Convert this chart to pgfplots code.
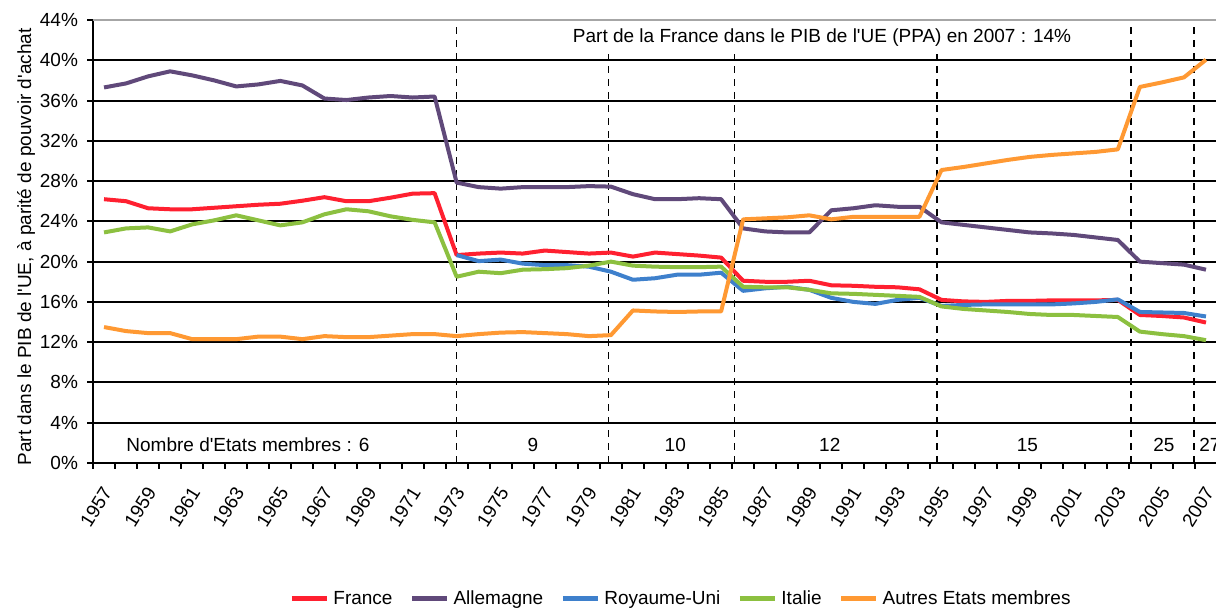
\documentclass[border=0pt]{standalone}
\usepackage{fontspec}
\setmainfont{Liberation Sans}[Ligatures=TeXOff]
\usepackage{pgfplots}
\pgfplotsset{compat=1.18}
\definecolor{cFR}{RGB}{255,32,48}
\definecolor{cDE}{RGB}{96,73,122}
\definecolor{cUK}{RGB}{62,128,204}
\definecolor{cIT}{RGB}{140,192,64}
\definecolor{cOT}{RGB}{255,153,51}
\newcommand{\fs}{\fontsize{9.5}{11}\selectfont}
\begin{document}
\begin{tikzpicture}[x=1pt,y=1pt]
\useasboundingbox (0,0) rectangle (608,304);
\node[rotate=90, font=\fs] at (13,180.5) {Part dans le PIB de l'UE, à parité de pouvoir d'achat};
\begin{axis}[
  at={(46.5pt,72.5pt)}, anchor=south west, scale only axis,
  width=562pt, height=221.5pt,
  xmin=1956.5, xmax=2007.5, ymin=0, ymax=44,
  clip=false,
  axis lines*=left,
  axis line style={black, line width=1.25pt},
  ytick={0,4,...,40},
  yticklabels={0\%,4\%,8\%,12\%,16\%,20\%,24\%,28\%,32\%,36\%,40\%},
  extra y ticks={44}, extra y tick labels={44\%},
  extra y tick style={grid=none},
  ymajorgrids, major grid style={black, line width=1pt},
  xtick={1957,1959,...,2007},
  xticklabels={1957,1959,1961,1963,1965,1967,1969,1971,1973,1975,1977,1979,1981,1983,1985,1987,1989,1991,1993,1995,1997,1999,2001,2003,2005,2007},
  minor xtick={1956.5,1957.5,...,2007.5},
  major x tick style={draw=none},
  minor x tick style={black, line width=1pt},
  major y tick style={black, line width=1pt},
  tick align=outside,
  major tick length=3pt, minor tick length=3pt,
  tick label style={font=\fs},
  yticklabel style={anchor=east, xshift=-1pt},
  xticklabel style={xshift=3.5pt, yshift=-7pt, rotate=58, anchor=east},
  legend style={at={(0.524,-0.307)}, anchor=center, draw=none, fill=none,
    legend columns=-1, font=\fs,
    /tikz/every even column/.append style={column sep=6.5pt}},
  legend image code/.code={\draw[#1, line width=2.5pt] (0pt,0pt) -- (17.5pt,0pt);},
  every axis plot/.append style={line width=2pt, no markers, line join=round},
]
% top border
\draw[gray!70, line width=1pt] (axis cs:1956.5,44) -- (axis cs:2007.5,44);
% dashed separators
\foreach \xx in {1973,1979.9,1985.6,1994.8,2003.6,2006.45}{
  \edef\tmp{\noexpand\draw[black, line width=0.75pt, dash pattern=on 3.5pt off 3pt] (axis cs:\xx,0) -- (axis cs:\xx,43.7);}\tmp
}
% white box for annotation
\fill[white] (axis cs:1978.05,40.6) rectangle (axis cs:2002.05,43.85);
\node[font=\fs] at (axis cs:1989.58,42.3) {Part de la France dans le PIB de l'UE (PPA) en 2007 : 14\%};
% member counts
\node[font=\fs] at (axis cs:1963.53,1.79) {Nombre d'Etats membres : 6};
\node[font=\fs] at (axis cs:1976.46,1.79) {9};
\node[font=\fs] at (axis cs:1982.92,1.79) {10};
\node[font=\fs] at (axis cs:1989.93,1.79) {12};
\node[font=\fs] at (axis cs:1998.9,1.79) {15};
\node[font=\fs] at (axis cs:2005.09,1.79) {25};
\node[font=\fs, anchor=west, inner xsep=0pt] at (axis cs:2006.68,1.79) {27};

\addplot[cFR] coordinates {
(1957,26.2)(1958,26.0)(1959,25.3)(1960,25.2)(1961,25.2)(1962,25.35)(1963,25.5)(1964,25.65)(1965,25.75)(1966,26.05)
(1967,26.4)(1968,26.0)(1969,26.0)(1970,26.35)(1971,26.75)(1972,26.8)(1973,20.65)(1974,20.8)(1975,20.9)(1976,20.8)
(1977,21.1)(1978,20.95)(1979,20.8)(1980,20.9)(1981,20.5)(1982,20.9)(1983,20.75)(1984,20.6)(1985,20.4)(1986,18.1)
(1987,18.0)(1988,18.0)(1989,18.1)(1990,17.65)(1991,17.6)(1992,17.5)(1993,17.45)(1994,17.25)(1995,16.2)(1996,16.05)
(1997,16.0)(1998,16.1)(1999,16.1)(2000,16.15)(2001,16.15)(2002,16.15)(2003,16.2)(2004,14.7)(2005,14.6)(2006,14.45)(2007,13.95)};
\addlegendentry{France}
\addplot[cDE] coordinates {
(1957,37.3)(1958,37.7)(1959,38.4)(1960,38.9)(1961,38.5)(1962,38.0)(1963,37.4)(1964,37.6)(1965,37.95)(1966,37.5)
(1967,36.2)(1968,36.05)(1969,36.3)(1970,36.45)(1971,36.3)(1972,36.4)(1973,27.85)(1974,27.4)(1975,27.25)(1976,27.4)
(1977,27.4)(1978,27.4)(1979,27.5)(1980,27.45)(1981,26.7)(1982,26.2)(1983,26.2)(1984,26.3)(1985,26.2)(1986,23.3)
(1987,23.0)(1988,22.9)(1989,22.9)(1990,25.1)(1991,25.3)(1992,25.6)(1993,25.45)(1994,25.45)(1995,23.9)(1996,23.65)
(1997,23.4)(1998,23.15)(1999,22.9)(2000,22.8)(2001,22.65)(2002,22.4)(2003,22.15)(2004,20.0)(2005,19.85)(2006,19.7)(2007,19.2)};
\addlegendentry{Allemagne}
\addplot[cUK] coordinates {
(1973,20.65)(1974,20.05)(1975,20.2)(1976,19.8)(1977,19.65)(1978,19.65)(1979,19.5)(1980,19.0)(1981,18.2)(1982,18.35)
(1983,18.7)(1984,18.7)(1985,18.9)(1986,17.1)(1987,17.35)(1988,17.5)(1989,17.2)(1990,16.4)(1991,16.0)(1992,15.8)
(1993,16.2)(1994,16.4)(1995,15.6)(1996,15.7)(1997,15.75)(1998,15.75)(1999,15.75)(2000,15.75)(2001,15.85)(2002,16.0)
(2003,16.25)(2004,15.0)(2005,14.95)(2006,14.9)(2007,14.55)};
\addlegendentry{Royaume-Uni}
\addplot[cIT] coordinates {
(1957,22.9)(1958,23.3)(1959,23.4)(1960,23.0)(1961,23.7)(1962,24.1)(1963,24.6)(1964,24.1)(1965,23.6)(1966,23.9)
(1967,24.7)(1968,25.2)(1969,25.0)(1970,24.5)(1971,24.15)(1972,23.9)(1973,18.5)(1974,19.0)(1975,18.85)(1976,19.2)
(1977,19.25)(1978,19.35)(1979,19.6)(1980,20.0)(1981,19.6)(1982,19.5)(1983,19.45)(1984,19.45)(1985,19.5)(1986,17.5)
(1987,17.45)(1988,17.45)(1989,17.2)(1990,16.85)(1991,16.8)(1992,16.7)(1993,16.6)(1994,16.5)(1995,15.55)(1996,15.3)
(1997,15.15)(1998,15.0)(1999,14.8)(2000,14.7)(2001,14.7)(2002,14.6)(2003,14.5)(2004,13.05)(2005,12.8)(2006,12.6)(2007,12.2)};
\addlegendentry{Italie}
\addplot[cOT] coordinates {
(1957,13.5)(1958,13.1)(1959,12.9)(1960,12.9)(1961,12.3)(1962,12.3)(1963,12.3)(1964,12.55)(1965,12.55)(1966,12.3)
(1967,12.6)(1968,12.5)(1969,12.5)(1970,12.65)(1971,12.8)(1972,12.8)(1973,12.6)(1974,12.8)(1975,12.95)(1976,13.0)
(1977,12.9)(1978,12.8)(1979,12.6)(1980,12.7)(1981,15.15)(1982,15.05)(1983,15.0)(1984,15.05)(1985,15.05)(1986,24.2)
(1987,24.3)(1988,24.4)(1989,24.6)(1990,24.2)(1991,24.45)(1992,24.45)(1993,24.45)(1994,24.45)(1995,29.1)(1996,29.4)
(1997,29.75)(1998,30.1)(1999,30.4)(2000,30.6)(2001,30.75)(2002,30.9)(2003,31.15)(2004,37.35)(2005,37.8)(2006,38.3)(2007,40.05)};
\addlegendentry{Autres Etats membres}
\end{axis}
\end{tikzpicture}
\end{document}
